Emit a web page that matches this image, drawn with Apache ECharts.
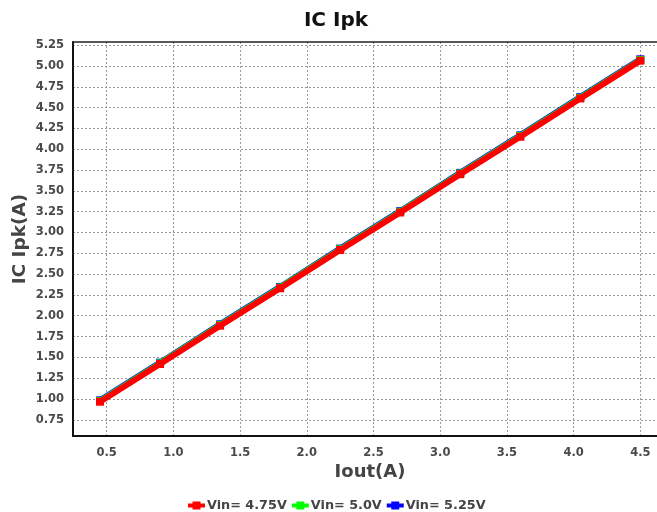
<!DOCTYPE html>
<html>
<head>
<meta charset="utf-8">
<script src="https://cdn.jsdelivr.net/npm/echarts@6/dist/echarts.min.js"></script>
<style>
  html, body { margin: 0; padding: 0; background: #ffffff; }
  #chart { width: 657px; height: 512px; }
</style>
</head>
<body>
<div id="chart"></div>
<script>
// Output current (A) at each measurement step
const ioutValues = [0.45, 0.9, 1.35, 1.8, 2.25, 2.7, 3.15, 3.6, 4.05, 4.5];

// Inductor peak current (A) for each input voltage
const ipkVin475 = [0.967, 1.42, 1.88, 2.33, 2.79, 3.24, 3.70, 4.15, 4.61, 5.064];
const ipkVin500 = [0.975, 1.428, 1.888, 2.338, 2.798, 3.248, 3.708, 4.158, 4.618, 5.072];
const ipkVin525 = [0.983, 1.436, 1.896, 2.346, 2.806, 3.256, 3.716, 4.166, 4.626, 5.080];

// Tick labels
const xTicks = [0.5, 1.0, 1.5, 2.0, 2.5, 3.0, 3.5, 4.0, 4.5];
const yTicks = [0.75, 1.0, 1.25, 1.5, 1.75, 2.0, 2.25, 2.5, 2.75, 3.0, 3.25, 3.5,
                3.75, 4.0, 4.25, 4.5, 4.75, 5.0, 5.25];

const seriesNames = ['Vin= 4.75V', 'Vin= 5.0V', 'Vin= 5.25V'];
const seriesColors = ['#ff0000', '#00ff00', '#0000ff'];
const seriesData = [ipkVin475, ipkVin500, ipkVin525];
// red is painted last so it sits on top of the other two
const seriesZ = [5, 4, 3];

const FONT = '"DejaVu Sans", Verdana, sans-serif';
const chart = echarts.init(document.getElementById('chart'), null, { renderer: 'canvas' });

const gridLine = { show: true, lineStyle: { color: '#9a9a9a', width: 1, type: [2, 2] } };
const X_MIN = 0.2475;
const X_MAX = 4.625;

chart.setOption({
  animation: false,
  backgroundColor: '#ffffff',
  grid: { left: 73, top: 42, right: 0, bottom: 76 },
  xAxis: [
    {
      type: 'value',
      min: X_MIN,
      max: X_MAX,
      axisLine: { show: true, onZero: false, lineStyle: { color: '#111', width: 2 } },
      axisTick: { show: false, customValues: xTicks },
      splitLine: gridLine,
      axisLabel: {
        customValues: xTicks,
        margin: 11,
        fontFamily: FONT, fontWeight: 'bold', fontSize: 11.5, color: '#4a4a4a',
        formatter: v => v.toFixed(1)
      }
    },
    {
      // top frame line only
      type: 'value',
      position: 'top',
      min: X_MIN,
      max: X_MAX,
      axisLine: { show: true, onZero: false, lineStyle: { color: '#222', width: 1.5 } },
      axisTick: { show: false },
      axisLabel: { show: false },
      splitLine: { show: false }
    }
  ],
  yAxis: {
    type: 'value',
    min: 0.555,
    max: 5.288,
    axisLine: { show: true, onZero: false, lineStyle: { color: '#111', width: 2 } },
    axisTick: { show: false, customValues: yTicks },
    splitLine: gridLine,
    axisLabel: {
      customValues: yTicks,
      margin: 9,
      fontFamily: FONT, fontWeight: 'bold', fontSize: 11.5, color: '#4a4a4a',
      formatter: v => v.toFixed(2)
    }
  },
  legend: {
    data: seriesNames,
    left: 181,
    top: 494,
    itemWidth: 17,
    itemHeight: 10,
    itemGap: 3,
    lineStyle: { width: 4 },
    textStyle: { fontFamily: FONT, fontWeight: 'bold', fontSize: 12.8, color: '#444', padding: [0, 0, 0, -3] }
  },
  graphic: [
    {
      type: 'text', x: 336, y: 21,
      style: { text: 'IC Ipk', fontFamily: FONT, fontWeight: 'bold', fontSize: 20, fill: '#111',
               textAlign: 'center', textVerticalAlign: 'middle' }
    },
    {
      type: 'text', x: 370, y: 472,
      style: { text: 'Iout(A)', fontFamily: FONT, fontWeight: 'bold', fontSize: 18, fill: '#444',
               textAlign: 'center', textVerticalAlign: 'middle' }
    },
    {
      type: 'text', x: 20, y: 239, rotation: Math.PI / 2,
      style: { text: 'IC Ipk(A)', fontFamily: FONT, fontWeight: 'bold', fontSize: 18.5, fill: '#444',
               textAlign: 'center', textVerticalAlign: 'middle' }
    }
  ],
  series: seriesNames.map((name, i) => ({
    name: name,
    type: 'line',
    xAxisIndex: 0,
    z: seriesZ[i],
    data: ioutValues.map((x, k) => [x, seriesData[i][k]]),
    symbol: 'rect',
    symbolSize: 8,
    showSymbol: true,
    itemStyle: { color: seriesColors[i] },
    lineStyle: { color: seriesColors[i], width: 6 }
  }))
});
</script>
</body>
</html>
